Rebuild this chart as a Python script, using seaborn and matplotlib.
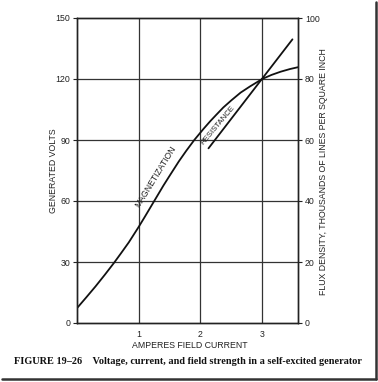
import matplotlib
matplotlib.use("Agg")
import matplotlib.pyplot as plt
from matplotlib.lines import Line2D
import seaborn as sns
import pandas as pd

# Data
mag_current = [0.0, 0.15, 0.3, 0.45, 0.6, 0.72, 0.84, 1.0, 1.1, 1.2, 1.3, 1.4, 1.5,
               1.65, 1.77, 1.9, 2.05, 2.16, 2.25, 2.37, 2.5, 2.65, 2.8, 3.0, 3.15,
               3.3, 3.45, 3.58]
mag_volts = [7.3, 12.6, 18.0, 23.7, 29.6, 34.6, 39.7, 47.3, 52.3, 57.4, 62.5, 67.6, 72.4,
             79.5, 84.7, 90.0, 95.5, 99.3, 102.2, 106.0, 109.5, 113.3, 116.3, 120.0, 122.0,
             123.6, 124.9, 125.8]
res_current = [2.13, 3.49]
res_volts = [85.9, 139.5]
x_ticks = [1, 2, 3]
y_ticks = [0, 30, 60, 90, 120, 150]
flux_ticks = [0, 20, 40, 60, 80, 100]

sns.set_style("white")
plt.rcParams['font.family'] = ['Liberation Sans', 'DejaVu Sans']

fig = plt.figure(figsize=(3.78, 3.82), dpi=100)
ax = fig.add_axes([77/378, 1-323/382, 221/378, 305/382])

mag = pd.DataFrame({"I": mag_current, "V": mag_volts})
res = pd.DataFrame({"I": res_current, "V": res_volts})
sns.lineplot(data=mag, x="I", y="V", ax=ax, color="#111111", linewidth=1.3)
sns.lineplot(data=res, x="I", y="V", ax=ax, color="#111111", linewidth=1.3)

ax.set_xlim(0, 3.58)
ax.set_ylim(0, 150)
ax.set_xticks(x_ticks)
ax.set_yticks(y_ticks)
ax.tick_params(axis='both', labelsize=6.3, length=3, width=0.8, colors="#222222", pad=2)
for v in x_ticks:
    ax.axvline(v, color="#333333", linewidth=0.9, zorder=0)
for v in y_ticks[1:-1]:
    ax.axhline(v, color="#333333", linewidth=0.9, zorder=0)
for s in ax.spines.values():
    s.set_visible(True)
    s.set_color("#222222")
    s.set_linewidth(1.0)

ax.set_xlabel("AMPERES FIELD CURRENT", fontsize=6.3, color="#222222")
ax.set_ylabel("GENERATED VOLTS", fontsize=6.3, color="#222222")
ax.xaxis.set_label_coords(0.51, -0.06)
ax.yaxis.set_label_coords(-0.086, 0.5)

ax2 = ax.twinx()
ax2.set_ylim(0, 100)
ax2.set_yticks(flux_ticks)
ax2.tick_params(axis='y', labelsize=6.3, length=3, width=0.8, colors="#222222", pad=2)
ax2.set_ylabel("FLUX DENSITY, THOUSANDS OF LINES PER SQUARE INCH", fontsize=6.3, color="#222222")
ax2.yaxis.set_label_coords(1.095, 0.495)
for s in ax2.spines.values():
    s.set_color("#222222")
    s.set_linewidth(1.0)

ax.text(1.27, 72.0, "MAGNETIZATION", fontsize=6.2, rotation=58.5, rotation_mode='anchor',
        ha='center', va='center', color="#222222")
ax.text(2.29, 97.3, "RESISTANCE", fontsize=5.6, rotation=50, rotation_mode='anchor',
        ha='center', va='center', color="#222222")

fig.text(14/378, 1-362/382, "FIGURE 19\u201326    Voltage, current, and field strength in a self-excited generator",
         fontsize=7.4, fontweight='bold', family=['Liberation Serif', 'DejaVu Serif'],
         ha='left', va='center', color="#111111")

fig.add_artist(Line2D([375.5/378, 375.5/378], [1-2/382, 1-379/382], transform=fig.transFigure,
                      color="#333333", linewidth=1.8))
fig.add_artist(Line2D([2/378, 376/378], [1-379/382, 1-379/382], transform=fig.transFigure,
                      color="#333333", linewidth=1.8))

fig.savefig("out.png", dpi=100)
